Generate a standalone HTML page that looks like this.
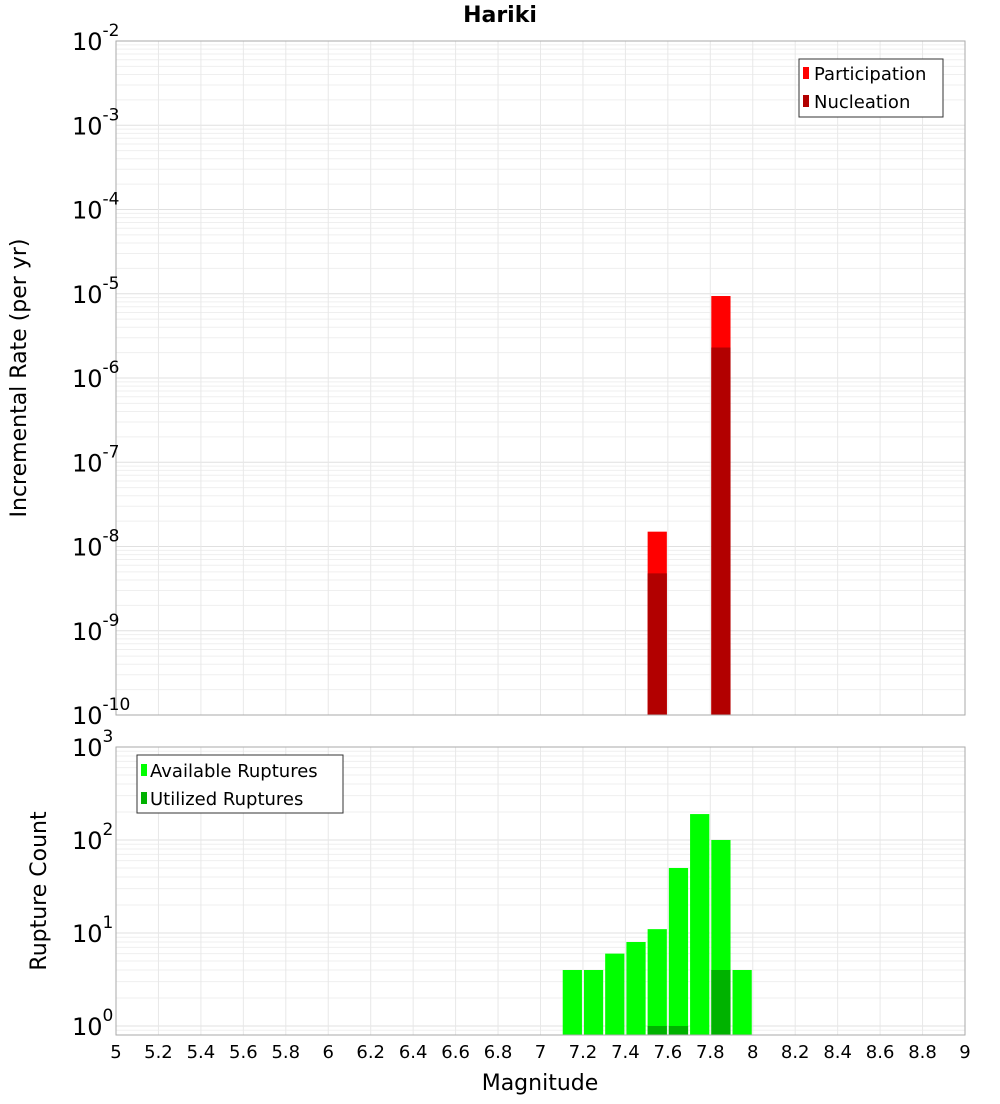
<!DOCTYPE html>
<html><head><meta charset="utf-8"><style>
body{margin:0;background:#fff;font-family:"DejaVu Sans","Liberation Sans",sans-serif}
svg text{font-family:"DejaVu Sans","Liberation Sans",sans-serif}
</style></head><body>
<svg id="chart" width="1000" height="1100" xmlns="http://www.w3.org/2000/svg">
<text x="500" y="22" text-anchor="middle" font-size="22" font-weight="bold">Hariki</text>
<g id="grid"></g><g id="bars"></g><g id="axes"></g>
<text transform="translate(26,378) rotate(-90)" text-anchor="middle" font-size="22">Incremental Rate (per yr)</text>
<text transform="translate(46,891) rotate(-90)" text-anchor="middle" font-size="22">Rupture Count</text>
<text x="540" y="1090" text-anchor="middle" font-size="22">Magnitude</text>
<g>
<rect x="799" y="59" width="144" height="58" fill="#fff" stroke="#333"/>
<rect x="803" y="67" width="6" height="12" fill="#ff0000"/>
<text x="814" y="80" font-size="18">Participation</text>
<rect x="803" y="95" width="6" height="12" fill="#b20000"/>
<text x="814" y="108" font-size="18">Nucleation</text>
</g>
<g>
<rect x="137" y="755" width="206" height="58" fill="#fff" stroke="#333"/>
<rect x="141" y="764" width="6" height="12" fill="#00ff00"/>
<text x="150" y="777" font-size="18">Available Ruptures</text>
<rect x="141" y="792" width="6" height="12" fill="#00b200"/>
<text x="150" y="805" font-size="18">Utilized Ruptures</text>
</g>
</svg>
<script>
const mags=[7.15,7.25,7.35,7.45,7.55,7.65,7.75,7.85,7.95];
const participation=[0,0,0,0,1.5e-8,0,0,9.4e-6,0];
const nucleation=[0,0,0,0,4.8e-9,0,0,2.3e-6,0];
const available=[4,4,6,8,11,50,190,100,4];
const utilized=[0,0,0,0,1,1,0,4,0];
const xTicks=[5,5.2,5.4,5.6,5.8,6,6.2,6.4,6.6,6.8,7,7.2,7.4,7.6,7.8,8,8.2,8.4,8.6,8.8,9];
const topExps=[-10,-9,-8,-7,-6,-5,-4,-3,-2];
const botExps=[0,1,2,3];
const NS="http://www.w3.org/2000/svg";
const L=116,R=965;
const X=m=>L+(m-5)/4*(R-L);
const T0=41,T1=715,yT=v=>T0+(-2-Math.log10(v))/8*(T1-T0);
const B0=747,B1=1035,bMin=Math.log10(0.8),yB=v=>B0+(3-Math.log10(v))/(3-bMin)*(B1-B0);
function el(p,tag,a){const e=document.createElementNS(NS,tag);for(const k in a)e.setAttribute(k,a[k]);document.getElementById(p).appendChild(e);return e;}
// grids
for(const [y0,y1,yf,lo,hi] of [[T0,T1,yT,-10,-2],[B0,B1,yB,-1,3]]){
  for(let d=lo;d<hi;d++)for(let k=1;k<10;k++){const v=k*Math.pow(10,d);const y=yf(v);if(y<y0-0.5||y>y1+0.5)continue;
    const g=el('grid','line',{x1:L,x2:R,y1:y,y2:y,stroke:k==1?'#e0e0e0':'#efefef','stroke-width':1});
    
    }
  for(const t of xTicks){const g=el('grid','line',{x1:X(t),x2:X(t),y1:y0,y2:y1,stroke:'#e8e8e8'});
    
    }
}
const bw=(R-L)/40;
mags.forEach((m,i)=>{
  const x=X(m)-bw/2+1,w=bw-2;
  if(participation[i]>0){const r=el('bars','rect',{x:x,y:yT(participation[i]),width:w,height:T1-yT(participation[i]),fill:'#ff0000'});
    
    }
  if(nucleation[i]>0){const r=el('bars','rect',{x:x,y:yT(nucleation[i]),width:w,height:T1-yT(nucleation[i]),fill:'#b20000'});
    
    }
  if(available[i]>0){const r=el('bars','rect',{x:x,y:yB(available[i]),width:w,height:B1-yB(available[i]),fill:'#00ff00'});
    
    }
  if(utilized[i]>0){const r=el('bars','rect',{x:x,y:yB(utilized[i]),width:w,height:B1-yB(utilized[i]),fill:'#00b200'});
    
    }
});
// frames
const f1=el('axes','rect',{x:L,y:T0,width:R-L,height:T1-T0,fill:'none',stroke:'#aaa'});


const f2=el('axes','rect',{x:L,y:B0,width:R-L,height:B1-B0,fill:'none',stroke:'#aaa'});


function expLabel(y,e,name){const t=el('axes','text',{x:106,y:y+9,'text-anchor':'end','font-size':24});
  
  
  t.textContent='10';const s=document.createElementNS(NS,'tspan');s.setAttribute('dy','-14');s.setAttribute('font-size','17');s.textContent=String(e);t.appendChild(s);
  t.setAttribute('x',72);t.setAttribute('text-anchor','start');}
topExps.forEach(e=>expLabel(yT(Math.pow(10,e)),e,'top-y-tick-label'));
botExps.forEach(e=>expLabel(yB(Math.pow(10,e)),e,'bottom-y-tick-label'));
xTicks.forEach(t=>{const s=el('axes','text',{x:X(t),y:1058,'text-anchor':'middle','font-size':18});
  
  
  s.textContent=String(t);});
</script>
</body></html>
